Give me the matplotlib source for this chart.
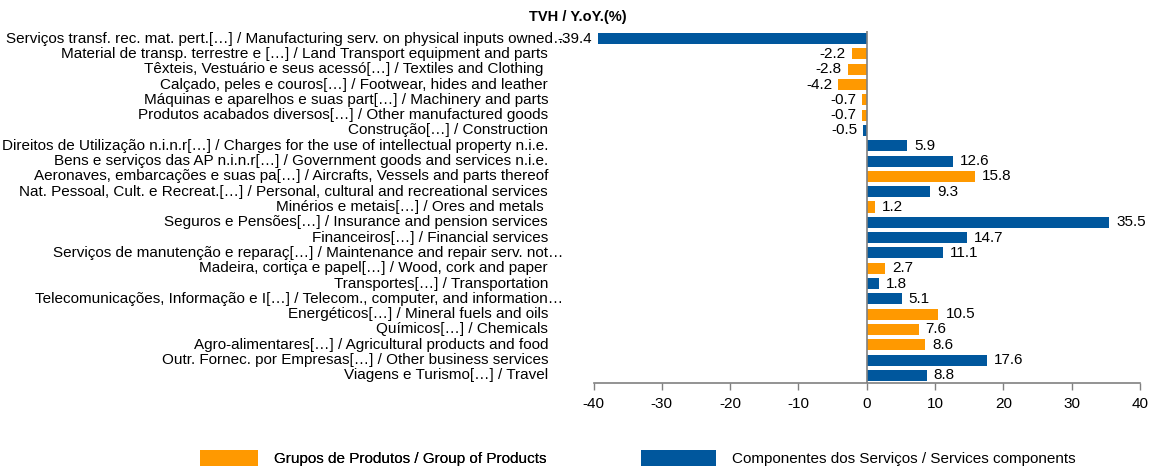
import matplotlib
matplotlib.use("Agg")
import matplotlib.pyplot as plt
from matplotlib.patches import Patch
from matplotlib.transforms import blended_transform_factory, ScaledTranslation
from matplotlib import font_manager

names = {f.name for f in font_manager.fontManager.ttflist}
fam = ['Liberation Sans Narrow', 'Liberation Sans', 'DejaVu Sans']
fam = [f for f in fam if f in names] or ['DejaVu Sans']
plt.rcParams['font.family'] = fam

categories = [
    "Serviços transf. rec. mat. pert.[…] / Manufacturing serv. on physical inputs owned…",
    "Material de transp. terrestre e […] / Land Transport equipment and parts",
    "Têxteis, Vestuário e seus acessó[…] / Textiles and Clothing ",
    "Calçado, peles e couros[…] / Footwear, hides and leather",
    "Máquinas e aparelhos e suas part[…] / Machinery and parts",
    "Produtos acabados diversos[…] / Other manufactured goods",
    "Construção[…] / Construction",
    "Direitos de Utilização n.i.n.r[…] / Charges for the use of intellectual property n.i.e.",
    "Bens e serviços das AP n.i.n.r[…] / Government goods and services n.i.e.",
    "Aeronaves, embarcações e suas pa[…] / Aircrafts, Vessels and parts thereof",
    "Nat. Pessoal, Cult. e Recreat.[…] / Personal, cultural and recreational services",
    "Minérios e metais[…] / Ores and metals ",
    "Seguros e Pensões[…] / Insurance and pension services",
    "Financeiros[…] / Financial services",
    "Serviços de manutenção e reparaç[…] / Maintenance and repair serv. not…",
    "Madeira, cortiça e papel[…] / Wood, cork and paper",
    "Transportes[…] / Transportation",
    "Telecomunicações, Informação e I[…] / Telecom., computer, and information…",
    "Energéticos[…] / Mineral fuels and oils",
    "Químicos[…] / Chemicals",
    "Agro-alimentares[…] / Agricultural products and food",
    "Outr. Fornec. por Empresas[…] / Other business services",
    "Viagens e Turismo[…] / Travel",
]
values = [-39.4, -2.2, -2.8, -4.2, -0.7, -0.7, -0.5, 5.9, 12.6, 15.8, 9.3, 1.2,
          35.5, 14.7, 11.1, 2.7, 1.8, 5.1, 10.5, 7.6, 8.6, 17.6, 8.8]
groups = ["S", "P", "P", "P", "P", "P", "S", "S", "S", "P", "S", "P",
          "S", "S", "S", "P", "S", "S", "P", "P", "P", "S", "S"]
series_names = {"P": "Grupos de Produtos / Group of Products",
                "S": "Componentes dos Serviços / Services components"}
xticks = [-40, -30, -20, -10, 0, 10, 20, 30, 40]
title = "TVH / Y.oY.(%)"

colors = {"P": "#FF9900", "S": "#00579D"}
# label overflow shift (pixels to the right) for very long labels
label_shift = {0: 20, 14: 15, 17: 15}

W, H, DPI = 11.55, 4.68, 100
fig = plt.figure(figsize=(W, H), dpi=DPI)
ax = fig.add_axes([593.5 / 1155, 1 - 383 / 468, (1140 - 593.5) / 1155, (383 - 31) / 468])

n = len(categories)
ypos = list(range(n))
ax.barh(ypos, values, height=0.72, color=[colors[g] for g in groups], zorder=2)

ax.set_xlim(-40, 40)
ax.set_ylim(n - 0.5, -0.5)
ax.set_xticks(xticks)
ax.set_xticklabels([str(t) for t in xticks], fontsize=11)
ax.set_yticks([])
ax.tick_params(axis='x', direction='out', length=5, width=1, color='#808080', pad=5)

for s in ['top', 'right', 'left']:
    ax.spines[s].set_visible(False)
ax.spines['bottom'].set_color('#808080')
ax.spines['bottom'].set_linewidth(1.2)
ax.axvline(0, color='#808080', lw=1.2, zorder=3)

fs = 11
trans = blended_transform_factory(ax.transAxes, ax.transData)
base_pad = (593.5 - 548) / DPI
for i, lab in enumerate(categories):
    dx = -base_pad + label_shift.get(i, 0) / DPI
    t = trans + ScaledTranslation(dx, 0, fig.dpi_scale_trans)
    ax.text(0, i, lab, transform=t, ha='right', va='center', fontsize=fs, color='#000000')

for i, v in enumerate(values):
    off = 7 if v >= 0 else -6
    ax.annotate(f"{v:.1f}", xy=(v, i), xytext=(off, 0), textcoords='offset pixels',
                ha='left' if v >= 0 else 'right', va='center', fontsize=fs, color='#000000',
                zorder=4)

fig.text(0.5, 1 - 17 / 468, title, ha='center', va='center', fontsize=10.5,
         fontweight='bold', family=['Liberation Sans', 'DejaVu Sans'])

leg1 = fig.legend(handles=[Patch(facecolor=colors["P"], label=series_names["P"])],
                  loc='center left', bbox_to_anchor=(192 / 1155, 1 - 458 / 468),
                  frameon=False, fontsize=fs, handlelength=3.8, handleheight=1.25,
                  handletextpad=1.1, borderpad=0)
fig.add_artist(leg1)
fig.legend(handles=[Patch(facecolor=colors["S"], label=series_names["S"])],
           loc='center left', bbox_to_anchor=(633 / 1155, 1 - 458 / 468),
           frameon=False, fontsize=fs, handlelength=4.9, handleheight=1.25,
           handletextpad=1.1, borderpad=0)

fig.savefig("out.png", dpi=DPI, facecolor='white')
